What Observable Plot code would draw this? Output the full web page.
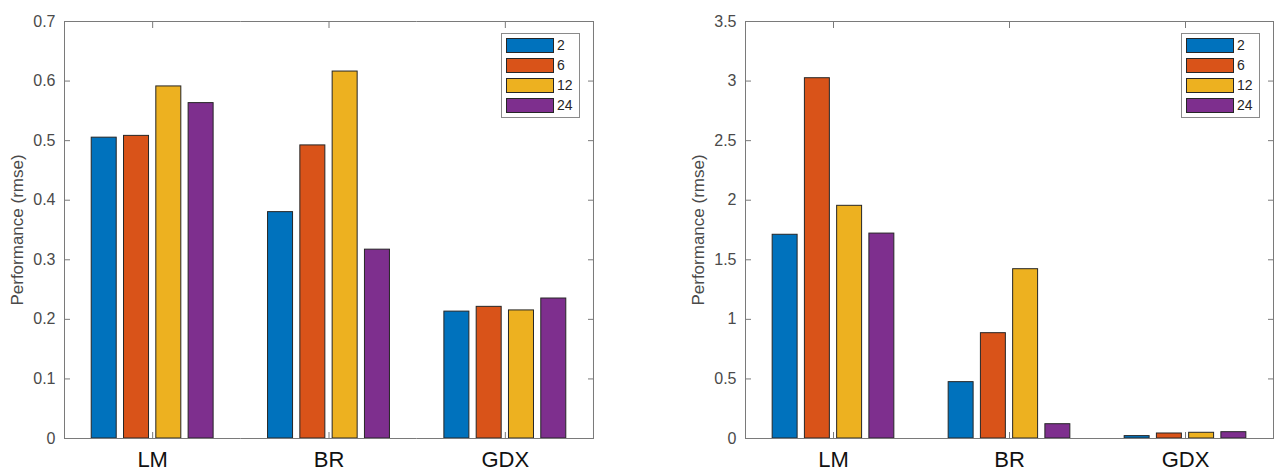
<!DOCTYPE html>
<html>
<head>
<meta charset="utf-8">
<script src="https://cdn.jsdelivr.net/npm/d3@7"></script>
<script src="https://cdn.jsdelivr.net/npm/@observablehq/plot@0.6"></script>
<style>
  body { margin: 0; background: #fff; }
  #wrap { position: relative; width: 1274px; height: 472px; overflow: hidden; font-family: "Liberation Sans", Arial, sans-serif; }
  .panel { position: absolute; top: 0; }
  .legend { position: absolute; box-sizing: border-box; border: 1px solid #8a8a8a; background: #fff; }
  .legend .row { position: absolute; left: 4px; height: 15px; display: flex; align-items: center; }
  .legend .sw { width: 48px; height: 15px; box-sizing: border-box; border: 1px solid #262626; }
  .legend .lab { margin-left: 3px; font-size: 14px; color: #262626; line-height: 15px; }
</style>
</head>
<body>
<div id="wrap"></div>
<script>
// ---- data ----
const categories = ["LM", "BR", "GDX"];
const series = ["2", "6", "12", "24"];
const colors = ["#0072BD", "#D95319", "#EDB120", "#7E2F8E"];

// left panel: rows = categories, columns = series
const leftLM = [0.505, 0.508, 0.591, 0.563];
const leftBR = [0.380, 0.492, 0.616, 0.317];
const leftGDX = [0.213, 0.221, 0.215, 0.235];
const leftTicks = [0, 0.1, 0.2, 0.3, 0.4, 0.5, 0.6, 0.7];

// right panel
const rightLM = [1.71, 3.024, 1.953, 1.72];
const rightBR = [0.473, 0.884, 1.421, 0.12];
const rightGDX = [0.02, 0.042, 0.048, 0.053];
const rightTicks = [0, 0.5, 1, 1.5, 2, 2.5, 3, 3.5];

const yLabel = "Performance (rmse)";

function toRows(rows) {
  return categories.flatMap((c, i) => series.map((s, j) => ({cat: c, series: s, value: rows[i][j]})));
}

const fmt = d3.format("~g");
const axisGray = "#7a7a7a";

function makeChart(rows, ticks, ml, mr) {
  const data = toRows(rows);
  const yMax = ticks[ticks.length - 1];
  return Plot.plot({
    width: 637, height: 472,
    marginLeft: ml, marginRight: mr, marginTop: 21, marginBottom: 34,
    style: {fontFamily: "'Liberation Sans', Arial, sans-serif", background: "white", overflow: "visible"},
    fx: {domain: categories, padding: 0, round: false, label: null},
    x: {domain: series, paddingInner: 0.195, paddingOuter: 0.827, round: false, axis: null},
    y: {domain: [0, yMax]},
    color: {domain: series, range: colors},
    marks: [
      Plot.barY(data, {fx: "cat", x: "series", y: "value", fill: "series", stroke: "#262626", strokeWidth: 1, insetLeft: 0.5, insetRight: 0.5}),
      Plot.ruleY([0, yMax], {stroke: axisGray, strokeWidth: 1}),
      Plot.frame({anchor: "left", facetAnchor: "left", stroke: axisGray}),
      Plot.frame({anchor: "right", facetAnchor: "right", stroke: axisGray}),
      Plot.axisY({anchor: "left", ticks: ticks, tickSize: -6, tickFormat: () => "", stroke: axisGray, label: null}),
      Plot.axisY({anchor: "left", ticks: ticks, tickSize: 0, tickPadding: 9, tickFormat: fmt, fontSize: 16, fill: "#4a4a4a", label: null}),
      Plot.axisY({anchor: "left", ticks: [], tickSize: 0, label: yLabel, labelAnchor: "center", labelOffset: 54, labelArrow: false, fontSize: 17, fill: "#4a4a4a"}),
      Plot.axisY({anchor: "right", ticks: ticks, tickSize: -6, tickFormat: () => "", stroke: axisGray, label: null}),
      Plot.axisFx({anchor: "top", tickSize: -6, tickFormat: () => "", stroke: axisGray, label: null}),
      Plot.axisFx({anchor: "bottom", tickSize: -6, tickFormat: () => "", stroke: axisGray, label: null}),
      Plot.axisFx({anchor: "bottom", tickSize: 0, tickPadding: 13, fontSize: 22, fill: "#111", label: null})
    ]
  });
}

function makeLegend(panelLeft, plotRight) {
  const box = document.createElement("div");
  box.className = "legend";
  const w = 79, h = 85;
  box.style.left = (panelLeft + plotRight - 13 - w) + "px";
  box.style.top = "33px";
  box.style.width = w + "px";
  box.style.height = h + "px";
  series.forEach((s, i) => {
    const row = document.createElement("div");
    row.className = "row";
    row.style.top = (4 + i * 20) + "px";
    const sw = document.createElement("div");
    sw.className = "sw";
    sw.style.background = colors[i];
    const lab = document.createElement("span");
    lab.className = "lab";
    lab.textContent = s;
    row.appendChild(sw);
    row.appendChild(lab);
    box.appendChild(row);
  });
  return box;
}

const wrap = document.getElementById("wrap");
const panels = [
  {rows: [leftLM, leftBR, leftGDX], ticks: leftTicks, left: 0, ml: 64, mr: 44},
  {rows: [rightLM, rightBR, rightGDX], ticks: rightTicks, left: 637, ml: 108, mr: 1}
];
panels.forEach(p => {
  const div = document.createElement("div");
  div.className = "panel";
  div.style.left = p.left + "px";
  div.appendChild(makeChart(p.rows, p.ticks, p.ml, p.mr));
  wrap.appendChild(div);
  wrap.appendChild(makeLegend(p.left, 637 - p.mr));
});
</script>
</body>
</html>
